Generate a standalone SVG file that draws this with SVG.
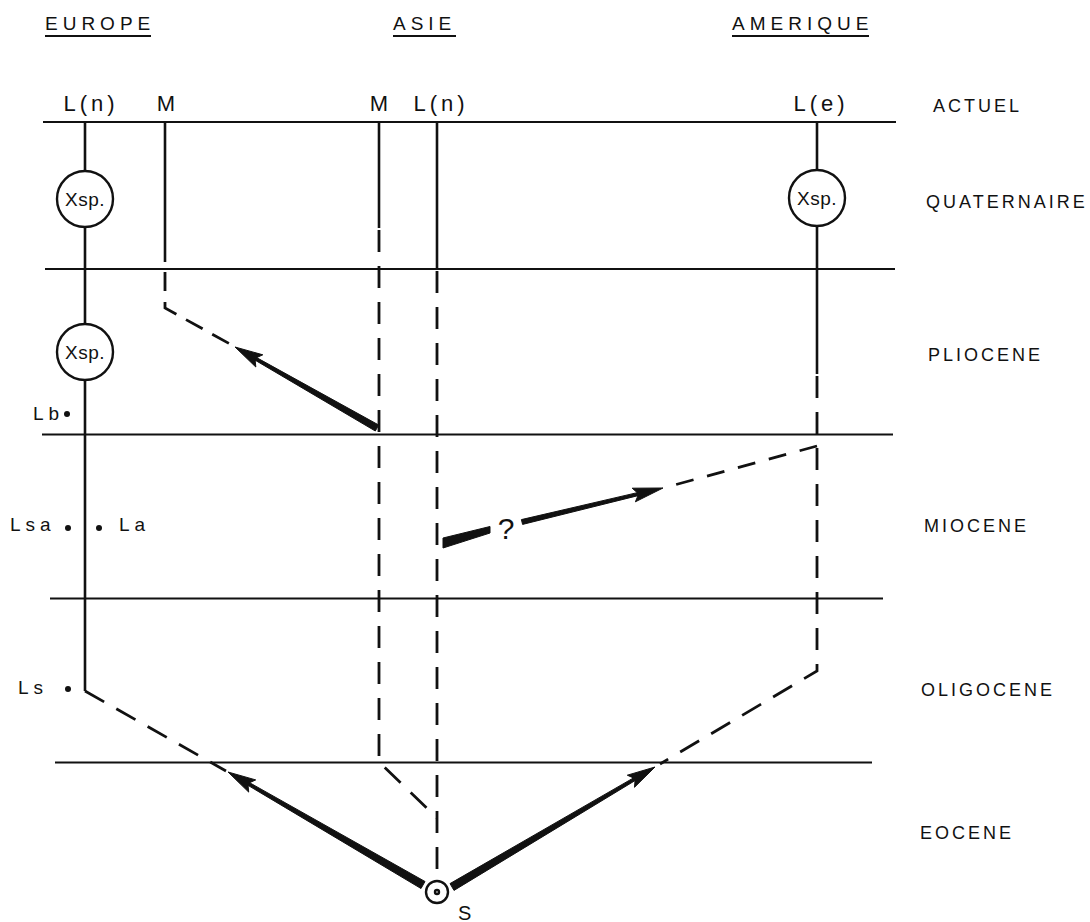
<svg xmlns="http://www.w3.org/2000/svg" width="1090" height="922" viewBox="0 0 1090 922">
  <style>
    .t{font-family:"Liberation Sans",Arial,sans-serif;fill:#111}
    .hdr{font-size:19px;letter-spacing:5px}
    .col{font-size:22px;letter-spacing:4px}
    .per{font-size:18px;letter-spacing:3px}
    .sm{font-size:19px;letter-spacing:5px}
    .xsp{font-size:19px;letter-spacing:0.5px}
    .rule{stroke:#111;stroke-width:2;fill:none}
    .solid{stroke:#111;stroke-width:2.6;fill:none}
    .dash{stroke:#111;stroke-width:2.8;fill:none;stroke-dasharray:22 14}
    .node circle{fill:#fff;stroke:#111;stroke-width:2.4}
    .dot{fill:#111}
    .arrow{fill:#111;stroke:#111;stroke-width:1;stroke-linejoin:round}
  </style>
  <rect width="1090" height="922" fill="#fff"/>

  <!-- continent headings -->
  <g id="headings">
    <text class="t hdr" x="45" y="30">EUROPE</text>
    <line class="rule" x1="45" y1="36" x2="151" y2="36"/>
    <text class="t hdr" x="393" y="30">ASIE</text>
    <line class="rule" x1="393" y1="36" x2="456" y2="36"/>
    <text class="t hdr" x="732" y="30">AMERIQUE</text>
    <line class="rule" x1="732" y1="36" x2="869" y2="36"/>
  </g>

  <!-- lineage labels -->
  <g id="lineage-labels" text-anchor="middle">
    <text class="t col" x="91" y="111">L(n)</text>
    <text class="t col" x="168" y="111">M</text>
    <text class="t col" x="381" y="111">M</text>
    <text class="t col" x="441" y="111">L(n)</text>
    <text class="t col" x="821" y="111">L(e)</text>
  </g>

  <!-- period boundaries -->
  <g id="period-lines">
    <line class="rule" x1="43" y1="122" x2="896" y2="122"/>
    <line class="rule" x1="45" y1="269" x2="895" y2="269"/>
    <line class="rule" x1="42" y1="434.5" x2="893" y2="434.5"/>
    <line class="rule" x1="50" y1="598.5" x2="883" y2="598.5"/>
    <line class="rule" x1="55" y1="762.5" x2="872" y2="762.5"/>
  </g>

  <!-- period names -->
  <g id="period-labels">
    <text class="t per" x="933" y="112">ACTUEL</text>
    <text class="t per" x="926" y="208">QUATERNAIRE</text>
    <text class="t per" x="928" y="361">PLIOCENE</text>
    <text class="t per" x="924" y="532">MIOCENE</text>
    <text class="t per" x="921" y="696">OLIGOCENE</text>
    <text class="t per" x="920" y="839">EOCENE</text>
  </g>

  <!-- lineages and migration routes -->
  <g id="connectors">
    <!-- Europe L(n) -->
    <path class="solid" d="M85,122 V691"/>
    <path class="dash" d="M85,691 L226,771"/>
    <!-- Europe M -->
    <path class="solid" d="M165,122 V262"/>
    <path class="dash" style="stroke-dasharray:19 11" d="M165,272 V308 L230,344"/>
    <!-- Asie M -->
    <path class="solid" d="M379,122 V228"/>
    <path class="dash" d="M379,230 V762 L437,818"/>
    <!-- Asie L(n) -->
    <path class="solid" d="M437,122 V269"/>
    <path class="dash" d="M437,271 V881"/>
    <!-- Amerique L(e) -->
    <path class="solid" d="M817,122 V374"/>
    <path class="dash" d="M817,376 V671 L660,764"/>
    <path class="dash" style="stroke-dasharray:18 14" d="M817,446 L667,487"/>

    <!-- Asie M to Europe M (Pliocene) -->
    <polygon class="arrow" points="255.7,357.1 378.7,425.0 375.3,431.0 254.3,359.7"/>
    <polygon class="arrow" points="235,347 262.8,354.8 255.0,358.4 255.8,367.0"/>
    <!-- S to Europe -->
    <polygon class="arrow" points="248.7,782.2 425.0,881.5 421.0,888.5 247.1,784.8"/>
    <polygon class="arrow" points="228,772 255.7,779.9 247.9,783.5 248.7,792.1"/>
    <!-- S to Amerique -->
    <polygon class="arrow" points="636.0,780.0 454.0,890.4 450.0,883.6 634.4,777.4"/>
    <polygon class="arrow" points="655,767 634.5,787.3 635.2,778.7 627.3,775.2"/>
    <!-- Asie L(n) to Amerique (Miocene, uncertain) -->
    <polygon class="arrow" points="443,538 490,526.5 490,533 443,548"/>
    <polygon class="arrow" points="639.05,495.4 522.6,524.4 521.4,519.6 638.35,492.4"/>
    <polygon class="arrow" points="663,488 632.2,488.2 638.7,493.9 635.4,501.8"/>
  </g>
  <text class="t" x="506" y="539" font-size="30" text-anchor="middle">?</text>

  <!-- species nodes -->
  <g id="xsp-europe-quaternaire" class="node">
    <circle cx="85" cy="199" r="28"/>
    <text class="t xsp" x="85" y="206" text-anchor="middle">Xsp.</text>
  </g>
  <g id="xsp-europe-pliocene" class="node">
    <circle cx="85" cy="352" r="28"/>
    <text class="t xsp" x="85" y="359" text-anchor="middle">Xsp.</text>
  </g>
  <g id="xsp-amerique" class="node">
    <circle cx="817" cy="198" r="28"/>
    <text class="t xsp" x="817" y="205" text-anchor="middle">Xsp.</text>
  </g>

  <!-- fossil occurrences -->
  <g id="lb">
    <circle class="dot" cx="67" cy="414" r="3"/>
    <text class="t sm" x="33" y="420">Lb</text>
  </g>
  <g id="lsa">
    <circle class="dot" cx="68" cy="528" r="3"/>
    <text class="t sm" x="10" y="531">Lsa</text>
  </g>
  <g id="la">
    <circle class="dot" cx="99" cy="528" r="3"/>
    <text class="t sm" x="119" y="531">La</text>
  </g>
  <g id="ls">
    <circle class="dot" cx="68" cy="689" r="3"/>
    <text class="t sm" x="18" y="694">Ls</text>
  </g>

  <!-- origin S -->
  <g id="origin-s" class="node">
    <circle cx="437" cy="892" r="11"/>
    <circle class="dot" cx="437" cy="892" r="2"/>
    <text class="t" x="458" y="920" font-size="20">S</text>
  </g>
</svg>
